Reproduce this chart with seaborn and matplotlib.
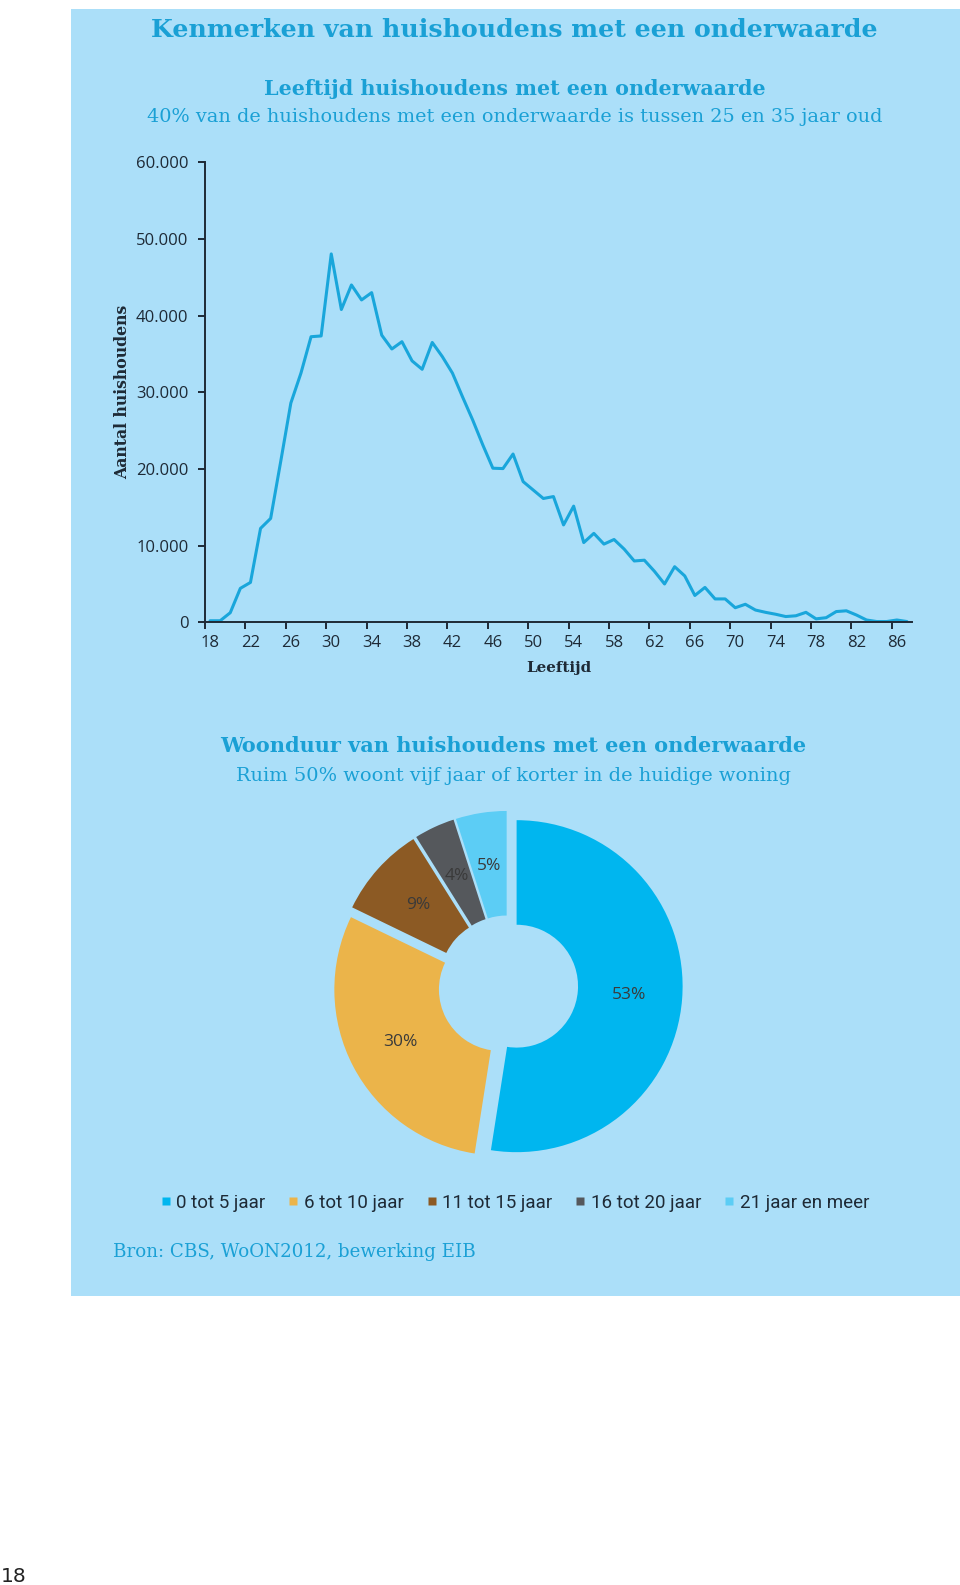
import matplotlib
matplotlib.use("Agg")
import matplotlib.pyplot as plt
import seaborn as sns
import numpy as np
import pandas as pd
from matplotlib.patches import Rectangle
from matplotlib.lines import Line2D
from matplotlib.ticker import FuncFormatter

# ---------------- data ----------------
ages = list(range(18, 88))
households = [200, 200, 1250, 4430, 5200, 12250, 13550, 21000, 28600, 32500,
              37250, 37350, 48050, 40800, 44000, 42050, 43000, 37450, 35650, 36600,
              34100, 33000, 36500, 34650, 32500, 29400, 26400, 23150, 20100, 20050,
              21950, 18350, 17250, 16150, 16400, 12700, 15150, 10400, 11600, 10200,
              10800, 9550, 8000, 8100, 6650, 5000, 7250, 6050, 3500, 4550,
              3050, 3050, 1900, 2350, 1600, 1300, 1050, 750, 850, 1300,
              450, 600, 1400, 1500, 950, 300, 100, 100, 300, 100]
x_tick_ages = list(range(18, 87, 4))
y_ticks = [0, 10000, 20000, 30000, 40000, 50000, 60000]

woonduur_cats = ["0 tot 5 jaar", "6 tot 10 jaar", "11 tot 15 jaar",
                 "16 tot 20 jaar", "21 jaar en meer"]
woonduur_pct = [53, 30, 9, 4, 5]

# ---------------- style ----------------
PANEL = "#abdff9"
LINE = "#19a6db"
TITLE = "#1aa0d5"
DARK = "#1e2a36"
PIE_COLORS = ["#00b6ef", "#ebb44a", "#8c5a24", "#55585c", "#5ccdf5"]

W, H = 960, 1585
sns.set_style("white")
plt.rcParams["font.family"] = ["Open Sans", "DejaVu Sans"]

fig = plt.figure(figsize=(W / 100, H / 100), dpi=100)
fig.patch.set_facecolor("white")


def fx(px):
    return px / W


def fy(py):
    return 1 - py / H


renderer = fig.canvas.get_renderer()


def fit(txt, target_w, vertical=False):
    bb = txt.get_window_extent(renderer)
    cur = bb.height if vertical else bb.width
    txt.set_fontsize(txt.get_fontsize() * target_w / cur)
    return txt


fig.patches.append(Rectangle((fx(70.7), fy(1295.7)), fx(960) - fx(70.7),
                             fy(9.3) - fy(1295.7), transform=fig.transFigure,
                             facecolor=PANEL, edgecolor="none", zorder=-10))

SERIF = ["DejaVu Serif"]

# titles
t = fig.text(fx(514.5), fy(37), "Kenmerken van huishoudens met een onderwaarde",
             ha="center", va="baseline", color=TITLE, fontweight="bold",
             family=SERIF, fontsize=18)
fit(t, 729)
t = fig.text(fx(514.5), fy(95), "Leeftijd huishoudens met een onderwaarde",
             ha="center", va="baseline", color=TITLE, fontweight="bold",
             family=SERIF, fontsize=14)
fit(t, 499)
t = fig.text(fx(514.5), fy(122),
             "40% van de huishoudens met een onderwaarde is tussen 25 en 35 jaar oud",
             ha="center", va="baseline", color=TITLE, family=SERIF, fontsize=13)
fit(t, 734)
t = fig.text(fx(513), fy(752), "Woonduur van huishoudens met een onderwaarde",
             ha="center", va="baseline", color=TITLE, fontweight="bold",
             family=SERIF, fontsize=14)
fit(t, 586)
t = fig.text(fx(513.5), fy(781),
             "Ruim 50% woont vijf jaar of korter in de huidige woning",
             ha="center", va="baseline", color=TITLE, family=SERIF, fontsize=13)
fit(t, 553)
t = fig.text(fx(113), fy(1257), "Bron: CBS, WoON2012, bewerking EIB",
             ha="left", va="baseline", color=TITLE, family=SERIF, fontsize=13)
fit(t, 363)
fig.text(fx(1), fy(1582), "18", ha="left", va="baseline", color="#222222",
         family=["DejaVu Sans"], fontsize=14.5)

# ---------------- line chart ----------------
ax = fig.add_axes([fx(205), fy(622.3), (912 - 205) / W, (622.3 - 162.3) / H])
ax.set_facecolor("none")
df = pd.DataFrame({"Leeftijd": ages, "Aantal": households})
sns.lineplot(data=df, x="Leeftijd", y="Aantal", ax=ax, color=LINE, linewidth=2.2)
ax.set_xlim(17.5, 87.5)
ax.set_ylim(0, 60000)
ax.set_yticks(y_ticks)
ax.yaxis.set_major_formatter(FuncFormatter(lambda v, p: f"{int(v):,}".replace(",", ".")))
ax.set_xticks([a - 0.5 for a in x_tick_ages])
ax.set_xticklabels([])
ax.set_xticks(x_tick_ages, minor=True)
ax.set_xticklabels([str(a) for a in x_tick_ages], minor=True)
ax.tick_params(axis="x", which="major", bottom=True, length=5, width=1.4,
               color=DARK, direction="out")
ax.tick_params(axis="x", which="minor", bottom=True, length=0, pad=9,
               labelsize=12, labelcolor=DARK)
ax.tick_params(axis="y", left=True, length=5, width=1.4, color=DARK,
               direction="out", pad=7, labelsize=12, labelcolor=DARK)
for s in ["top", "right"]:
    ax.spines[s].set_visible(False)
for s in ["left", "bottom"]:
    ax.spines[s].set_color(DARK)
    ax.spines[s].set_linewidth(1.4)
ax.set_xlabel("Leeftijd", family=SERIF, fontweight="bold", color=DARK, fontsize=12)
ax.set_ylabel("Aantal huishoudens", family=SERIF, fontweight="bold", color=DARK, fontsize=12)
ax.xaxis.label.set_va("center")
ax.yaxis.label.set_va("center")
ax.xaxis.set_label_coords(0.5, -(668 - 622.3) / 460)
ax.yaxis.set_label_coords((123 - 205) / 707, 0.5)
fit(ax.xaxis.label, 65)
fit(ax.yaxis.label, 175, vertical=True)

# ---------------- donut ----------------
R = 166.0
box = 400.0
cx, cy = 508.0, 985.5
pax = fig.add_axes([fx(cx - box / 2), fy(cy + box / 2), box / W, box / H])
wedges, _ = pax.pie(woonduur_pct, colors=PIE_COLORS, startangle=90,
                    counterclock=False, explode=[0.052] * len(woonduur_pct),
                    wedgeprops=dict(width=0.63, linewidth=0))
lim = box / 2 / R
pax.set_xlim(-lim, lim)
pax.set_ylim(-lim, lim)
pax.set_aspect("equal")
pax.axis("off")
for w, v in zip(wedges, woonduur_pct):
    th = np.deg2rad((w.theta1 + w.theta2) / 2)
    wx, wy = w.center
    pax.text(wx + 0.677 * w.r * np.cos(th), wy + 0.677 * w.r * np.sin(th), f"{v}%",
             ha="center", va="center", color="#3a3a3a", fontsize=12.5)

handles = [Line2D([], [], marker="s", linestyle="none", markersize=6,
                  markerfacecolor=c, markeredgecolor="none") for c in PIE_COLORS]
fig.legend(handles, woonduur_cats, loc="center",
           bbox_to_anchor=(fx(514.5), fy(1203)), ncol=5, frameon=False,
           handlelength=0.6, handletextpad=0.25, columnspacing=1.2,
           prop={"family": "Roboto", "size": 13.5}, labelcolor=DARK)

fig.savefig("out.png", dpi=100, facecolor="white")
